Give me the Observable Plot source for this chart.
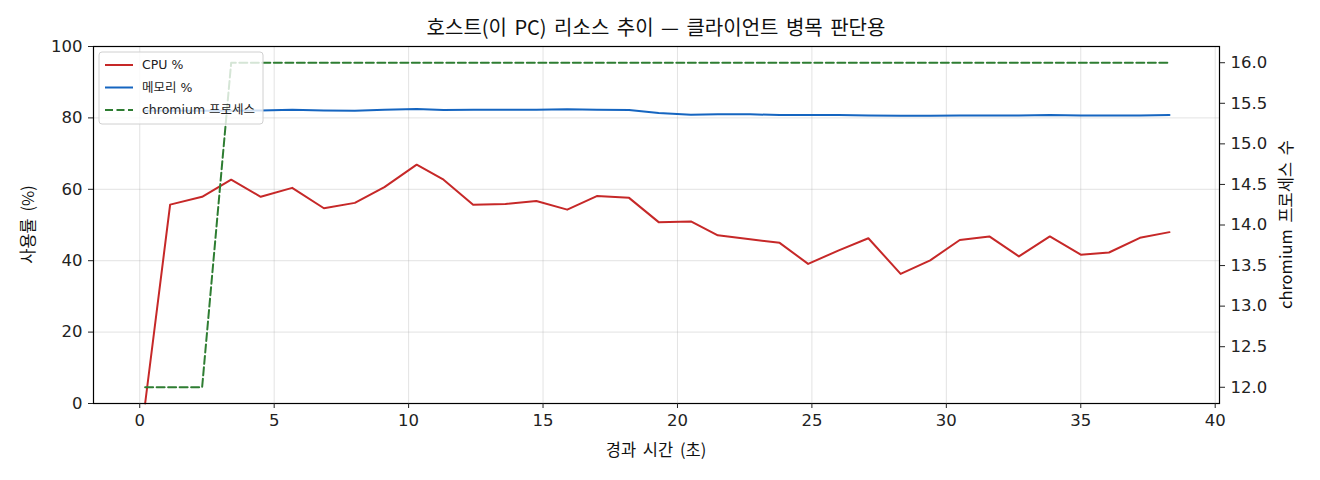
<!DOCTYPE html>
<html>
<head>
<meta charset="utf-8">
<script src="https://cdn.jsdelivr.net/npm/d3@7"></script>
<script src="https://cdn.jsdelivr.net/npm/@observablehq/plot@0.6"></script>
<style>
  html, body { margin: 0; padding: 0; background: #fff; }
  #chart svg { display: block; }
</style>
</head>
<body>
<div id="chart"></div>
<script>
// ---- data ----
const times = [0.2, 1.13, 2.32, 3.4, 4.5, 5.67, 6.85, 8.0, 9.1, 10.3, 11.3, 12.4, 13.6, 14.75, 15.9, 17.0, 18.2, 19.3, 20.5, 21.5, 22.7, 23.8, 24.86, 26.0, 27.1, 28.3, 29.4, 30.5, 31.6, 32.7, 33.85, 35.0, 36.05, 37.2, 38.3];
const cpu = [0, 55.7, 57.9, 62.7, 57.9, 60.4, 54.7, 56.2, 60.6, 66.9, 62.7, 55.7, 55.9, 56.7, 54.3, 58.1, 57.6, 50.8, 51.0, 47.1, 46.0, 45.0, 39.1, 42.9, 46.3, 36.3, 40.1, 45.8, 46.8, 41.2, 46.8, 41.7, 42.3, 46.4, 48.0];
const mem = [82.0, 82.0, 82.0, 82.0, 82.1, 82.3, 82.1, 82.0, 82.3, 82.5, 82.2, 82.3, 82.3, 82.3, 82.4, 82.3, 82.2, 81.4, 80.9, 81.0, 81.0, 80.8, 80.8, 80.8, 80.7, 80.6, 80.6, 80.7, 80.7, 80.7, 80.8, 80.7, 80.7, 80.7, 80.8];
const chromium = [12, 12, 12, 16, 16, 16, 16, 16, 16, 16, 16, 16, 16, 16, 16, 16, 16, 16, 16, 16, 16, 16, 16, 16, 16, 16, 16, 16, 16, 16, 16, 16, 16, 16, 16];

const xTicks = [0, 5, 10, 15, 20, 25, 30, 35, 40];
const yTicks = [0, 20, 40, 60, 80, 100];
const rightTicks = [12.0, 12.5, 13.0, 13.5, 14.0, 14.5, 15.0, 15.5, 16.0];
const rightDomain = [11.8, 16.2];

const title = "호스트(이 PC) 리소스 추이 — 클라이언트 병목 판단용";
const xLabel = "경과 시간 (초)";
const yLabel = "사용률 (%)";
const y2Label = "chromium 프로세스 수";
const seriesNames = ["CPU %", "메모리 %", "chromium 프로세스"];
const colors = ["#c62828", "#1565c0", "#2e7d32"];

// ---- build table ----
const rows = times.map((t, i) => ({t, cpu: cpu[i], mem: mem[i], chromium: chromium[i]}));
// map the right-axis quantity onto the left (0–100) scale
const toLeft = v => (v - rightDomain[0]) / (rightDomain[1] - rightDomain[0]) * 100;

const FONT = "'DejaVu Sans', 'Noto Sans CJK KR', sans-serif";
const KFONT = "'Noto Sans CJK KR', 'DejaVu Sans', sans-serif";

const M = {left: 93, right: 101, top: 46, bottom: 77};
const W = 1320, H = 480;

const chart = Plot.plot({
  width: W,
  height: H,
  marginLeft: M.left,
  marginRight: M.right,
  marginTop: M.top,
  marginBottom: M.bottom,
  style: {fontFamily: FONT, fontSize: "16.5px", color: "#222", background: "#fff"},
  x: {domain: [-1.72, 40.16]},
  y: {domain: [0, 100]},
  marks: [
    Plot.gridX(xTicks, {stroke: "#b0b0b0", strokeOpacity: 0.35, strokeWidth: 1}),
    Plot.gridY(yTicks, {stroke: "#b0b0b0", strokeOpacity: 0.35, strokeWidth: 1}),
    Plot.line(rows, {x: "t", y: "cpu", stroke: colors[0], strokeWidth: 2}),
    Plot.line(rows, {x: "t", y: "mem", stroke: colors[1], strokeWidth: 2}),
    Plot.line(rows, {x: "t", y: d => toLeft(d.chromium), stroke: colors[2], strokeWidth: 2, strokeDasharray: "8,3.5"}),
    Plot.frame({stroke: "#000", strokeWidth: 1.2}),
    Plot.axisX({ticks: xTicks, tickSize: 5, tickPadding: 6, label: null, tickFormat: d => String(d)}),
    Plot.axisY({anchor: "left", ticks: yTicks, tickSize: 5, tickPadding: 6, label: null, tickFormat: d => String(d)}),
    Plot.axisY({anchor: "right", ticks: rightTicks.map(toLeft), tickSize: 5, tickPadding: 6, label: null,
      tickFormat: (d, i) => rightTicks[i].toFixed(1)})
  ]
});

document.getElementById("chart").appendChild(chart);

const svg = d3.select(chart);
const fx0 = M.left, fx1 = W - M.right, fy0 = M.top, fy1 = H - M.bottom;
const cx = (fx0 + fx1) / 2, cy = (fy0 + fy1) / 2;

// ---- titles and axis labels ----
const lab = svg.append("g").attr("class", "labels")
  .attr("font-family", KFONT).attr("fill", "#111").attr("text-anchor", "middle");
lab.append("text").attr("x", cx).attr("y", fy0 - 18).attr("dy", "0.35em")
  .attr("font-size", 20).style("word-spacing", "3px").text(title);
lab.append("text").attr("x", cx).attr("y", fy1 + 47).attr("dy", "0.35em")
  .attr("font-size", 16.5).style("word-spacing", "3px").text(xLabel);
lab.append("text").attr("transform", `translate(${fx0 - 65},${cy}) rotate(-90)`).attr("dy", "0.35em")
  .attr("font-size", 16.5).style("word-spacing", "3px").text(yLabel);
lab.append("text").attr("transform", `translate(${fx1 + 67},${cy}) rotate(-90)`).attr("dy", "0.35em")
  .attr("font-size", 16.5).style("word-spacing", "3px").text(y2Label);

// ---- legend (upper-left, inside the axes) ----
const lx = fx0 + 6, ly = fy0 + 6, lw = 164, lh = 72;
const g = svg.append("g").attr("class", "legend");
g.append("rect")
  .attr("x", lx).attr("y", ly).attr("width", lw).attr("height", lh)
  .attr("rx", 3).attr("fill", "#fff").attr("fill-opacity", 0.8)
  .attr("stroke", "#d0d0d0").attr("stroke-width", 1);
seriesNames.forEach((name, i) => {
  const yy = ly + 13 + i * 22.5;
  g.append("line")
    .attr("x1", lx + 6).attr("x2", lx + 34).attr("y1", yy).attr("y2", yy)
    .attr("stroke", colors[i]).attr("stroke-width", 2)
    .attr("stroke-dasharray", i === 2 ? "8,3.5" : null);
  g.append("text")
    .attr("x", lx + 43).attr("y", yy).attr("dy", "0.35em")
    .attr("text-anchor", "start")
    .attr("font-family", FONT).attr("font-size", 12.5).attr("fill", "#222")
    .text(name);
});
</script>
</body>
</html>
